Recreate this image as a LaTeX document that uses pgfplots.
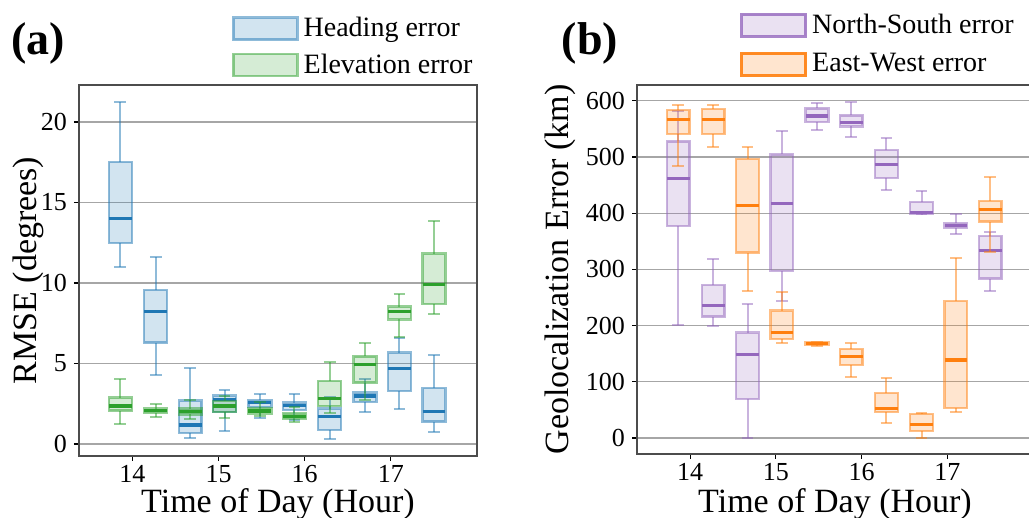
\documentclass[border=0pt]{standalone}
\usepackage{fontspec}
\setmainfont{Liberation Serif}
\usepackage{pgfplots}
\pgfplotsset{compat=1.18}

\definecolor{hcol}{HTML}{1F77B4}
\definecolor{ecol}{HTML}{2CA02C}
\definecolor{nscol}{HTML}{9467BD}
\definecolor{ewcol}{HTML}{FF7F0E}

% one box: colour, position, lower whisker, Q1, median, Q3, upper whisker
\newcommand{\bp}[7]{%
  \pgfmathsetmacro\xa{#2-0.1325}%
  \pgfmathsetmacro\xb{#2+0.1325}%
  \pgfmathsetmacro\wa{#2-0.068}%
  \pgfmathsetmacro\wb{#2+0.068}%
  \addplot[forget plot, draw=#1, draw opacity=0.5, line width=1pt] coordinates {(#2,#3) (#2,#4)};
  \addplot[forget plot, draw=#1, draw opacity=0.5, line width=1pt] coordinates {(#2,#6) (#2,#7)};
  \addplot[forget plot, draw=#1, draw opacity=0.5, line width=1pt] coordinates {(\wa,#3) (\wb,#3)};
  \addplot[forget plot, draw=#1, draw opacity=0.5, line width=1pt] coordinates {(\wa,#7) (\wb,#7)};
  \addplot[forget plot, draw=#1, draw opacity=0.5, fill=#1, fill opacity=0.2, line width=1.2pt]
    coordinates {(\xa,#4) (\xb,#4) (\xb,#6) (\xa,#6)} -- cycle;
  \addplot[forget plot, draw=#1, line width=1.6pt] coordinates {(\xa,#5) (\xb,#5)};
}

\pgfplotsset{
  panel/.style={
    scale only axis,
    xmin=13.38, xmax=18.0,
    xtick={14,15,16,17},
    ymajorgrids, grid style={black!35, line width=0.6pt},
    tick align=outside, major tick length=2.5pt,
    tick style={black, line width=0.6pt},
    xtick pos=bottom, ytick pos=left,
    axis line style={black!70, line width=0.8pt},
    tick label style={font=\fontsize{13}{15}\selectfont},
    xticklabel style={yshift=1.5pt},
    label style={font=\fontsize{17}{19}\selectfont},
    /pgf/number format/assume math mode=true,
    xlabel={Time of Day (Hour)},
    legend cell align=left,
    legend style={draw=none, fill=none, anchor=north west,
      font=\fontsize{14}{16}\selectfont,
      /tikz/every odd column/.append style={column sep=0.5pt}},
    legend image code/.code={\draw[##1, line width=1.4pt] (0pt,-5.5pt) rectangle (32pt,5.5pt);},
  }
}

\begin{document}
\begin{tikzpicture}
\begin{axis}[panel,
  at={(39.5pt,31pt)}, anchor=south west,
  width=199pt, height=185.5pt,
  ymin=-0.75, ymax=22.3, ytick={0,5,10,15,20},
  ylabel={RMSE (degrees)},
  ylabel style={at={(axis description cs:-0.127,0.5)}, anchor=center},
  xlabel style={at={(axis description cs:0.5,-0.131)}, anchor=center},
  legend style={at={(0.368,1.205)}, row sep=3pt},
]
\addlegendimage{draw=hcol, draw opacity=0.5, fill=hcol, fill opacity=0.2}
\addlegendentry{Heading error}
\addlegendimage{draw=ecol, draw opacity=0.5, fill=ecol, fill opacity=0.2}
\addlegendentry{Elevation error}
% heading error
\bp{hcol}{13.86}{10.97}{12.48}{14.02}{17.50}{21.22}
\bp{hcol}{14.27}{4.26}{6.29}{8.24}{9.57}{11.60}
\bp{hcol}{14.67}{0.35}{0.66}{1.18}{2.69}{4.74}
\bp{hcol}{15.07}{0.83}{2.00}{2.77}{3.00}{3.35}
\bp{hcol}{15.48}{1.60}{2.30}{2.55}{2.70}{3.08}
\bp{hcol}{15.88}{1.50}{2.10}{2.38}{2.57}{3.08}
\bp{hcol}{16.29}{0.29}{0.87}{1.70}{2.20}{2.94}
\bp{hcol}{16.70}{1.97}{2.59}{2.98}{3.19}{4.04}
\bp{hcol}{17.10}{2.15}{3.29}{4.70}{5.67}{6.60}
\bp{hcol}{17.50}{0.77}{1.39}{2.03}{3.46}{5.53}
% elevation error
\bp{ecol}{13.86}{1.22}{2.07}{2.36}{2.88}{4.04}
\bp{ecol}{14.27}{1.66}{1.92}{2.07}{2.20}{2.50}
\bp{ecol}{14.67}{1.53}{1.84}{2.00}{2.20}{2.73}
\bp{ecol}{15.07}{1.60}{2.00}{2.36}{2.65}{3.00}
\bp{ecol}{15.48}{1.72}{1.90}{2.05}{2.25}{2.60}
\bp{ecol}{15.88}{1.39}{1.53}{1.70}{1.90}{2.30}
\bp{ecol}{16.29}{1.95}{2.36}{2.84}{3.91}{5.07}
\bp{ecol}{16.70}{2.70}{3.81}{4.95}{5.44}{6.25}
\bp{ecol}{17.10}{6.66}{7.74}{8.22}{8.53}{9.30}
\bp{ecol}{17.50}{8.07}{8.70}{9.90}{11.82}{13.87}
\end{axis}

\begin{axis}[panel,
  at={(318.5pt,32pt)}, anchor=south west,
  width=198pt, height=184.5pt,
  ymin=-28.5, ymax=628, ytick={0,100,...,600},
  ylabel={Geolocalization Error (km)},
  ylabel style={at={(axis description cs:-0.194,0.5)}, anchor=center},
  xlabel style={at={(axis description cs:0.5,-0.137)}, anchor=center},
  legend style={at={(0.245,1.215)}, row sep=4.5pt},
]
\addlegendimage{draw=nscol, draw opacity=0.8, fill=nscol, fill opacity=0.2}
\addlegendentry{North-South error}
\addlegendimage{draw=ewcol, draw opacity=0.9, fill=ewcol, fill opacity=0.2}
\addlegendentry{East-West error}
% north-south error
\bp{nscol}{13.86}{201.2}{377.4}{461.7}{527.5}{581.0}
\bp{nscol}{14.27}{199.4}{216.0}{235.5}{271.8}{318.7}
\bp{nscol}{14.67}{0.6}{69.4}{147.8}{187.5}{238.0}
\bp{nscol}{15.07}{244.5}{296.8}{417.8}{504.4}{546.5}
\bp{nscol}{15.48}{548.3}{562.0}{572.7}{586.3}{595.8}
\bp{nscol}{15.88}{535.9}{554.2}{561.3}{573.8}{597.6}
\bp{nscol}{16.29}{441.5}{462.9}{486.6}{512.2}{534.1}
\bp{nscol}{16.70}{398.0}{398.3}{401.8}{420.2}{439.7}
\bp{nscol}{17.10}{362.6}{373.9}{378.0}{382.2}{397.6}
\bp{nscol}{17.50}{262.2}{283.6}{334.2}{359.6}{367.3}
% east-west error
\bp{ewcol}{13.86}{483.7}{540.7}{566.1}{583.9}{592.8}
\bp{ewcol}{14.27}{517.5}{541.2}{566.1}{585.7}{592.8}
\bp{ewcol}{14.67}{261.2}{329.9}{414.3}{496.2}{517.5}
\bp{ewcol}{15.07}{168.6}{175.7}{188.2}{226.6}{259.4}
\bp{ewcol}{15.48}{164.5}{166.5}{168.6}{170.4}{171.0}
\bp{ewcol}{15.88}{108.1}{129.4}{145.4}{157.9}{169.1}
\bp{ewcol}{16.29}{26.2}{45.8}{52.9}{80.1}{106.3}
\bp{ewcol}{16.70}{0.0}{12.5}{24.4}{42.7}{45.1}
\bp{ewcol}{17.10}{45.8}{52.9}{138.9}{243.9}{319.9}
\bp{ewcol}{17.50}{331.7}{385.1}{405.9}{421.9}{464.1}
\end{axis}

\node[font=\fontsize{23}{25}\selectfont\bfseries] at (19pt,237.5pt) {(a)};
\node[font=\fontsize{23}{25}\selectfont\bfseries] at (295pt,237.5pt) {(b)};

\pgfresetboundingbox
\useasboundingbox (0,0) rectangle (514.5pt,259pt);
\end{tikzpicture}
\end{document}
